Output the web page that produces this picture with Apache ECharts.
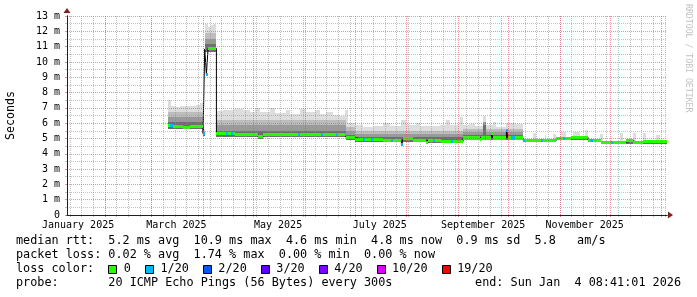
<!DOCTYPE html>
<html><head><meta charset="utf-8">
<script src="https://cdn.jsdelivr.net/npm/echarts@6/dist/echarts.min.js"></script>
<style>html,body{margin:0;padding:0;background:#fff}#c{width:697px;height:297px}</style>
</head><body><div id="c"></div>
<script>
// ---------- data ----------
const rangeStart = '2025-01-09T08:41:01';
const rangeEnd = '2026-01-04T08:41:01';
const xLabelTexts = ['January 2025','March 2025','May 2025','July 2025','September 2025','November 2025'];
const xLabelDates = ['2025-01-16','2025-03-16','2025-05-16','2025-07-16','2025-09-16','2025-11-16'];
const monthStartDates = ['2025-02-01','2025-03-01','2025-04-01','2025-05-01','2025-06-01','2025-07-01','2025-08-01','2025-09-01','2025-10-01','2025-11-01','2025-12-01','2026-01-01'];
const firstWeekLine = '2025-01-11';
const yMin = 0, yMax = 13, yStep = 1;

// median rtt (ms), step list: [from date, value]
const medianSteps = [
 ['2025-03-11',5.82],['2025-03-14',5.76],['2025-03-20',5.72],['2025-03-24',5.76],
 ['2025-04-01',5.32],['2025-04-02',10.85],['2025-04-03',9.2],['2025-04-04',10.88],
 ['2025-04-09',5.3],['2025-04-20',5.25],['2025-05-04',5.1],['2025-05-07',5.25],
 ['2025-06-26',5.05],['2025-07-01',4.95],['2025-07-18',4.85],['2025-07-29',4.6],
 ['2025-07-30',4.97],['2025-08-05',4.85],['2025-08-13',4.72],['2025-08-14',4.85],
 ['2025-08-22',4.8],['2025-09-04',5.03],['2025-09-14',4.93],['2025-09-15',5.03],
 ['2025-09-21',5.3],['2025-09-22',5.03],['2025-09-30',5.5],['2025-10-01',5.03],
 ['2025-10-10',4.88],['2025-10-30',5.02],['2025-11-08',5.07],['2025-11-18',4.88],
 ['2025-11-20',4.85],['2025-11-26',4.76],['2025-12-11',4.85],['2025-12-15',4.76],
 ['2025-12-21',4.8]
];
// smoke: lowest ping, and upper edges of the dark / mid / light / lightest bands
const smokeLowSteps = [
 ['2025-03-11',5.6],['2025-04-01',5.18],['2025-04-02',10.65],['2025-04-09',5.12],
 ['2025-05-04',4.98],['2025-05-07',5.12],['2025-06-26',4.93],['2025-07-01',4.78],
 ['2025-07-29',4.5],['2025-07-30',4.78],['2025-08-13',4.62],['2025-08-14',4.72],
 ['2025-09-04',4.92],['2025-09-14',4.83],['2025-09-15',4.92],['2025-10-10',4.78],
 ['2025-10-30',4.92],['2025-11-18',4.77],['2025-11-26',4.66]
];
const smokeDarkSteps = [
 ['2025-03-11',6.05],['2025-04-01',5.4],['2025-04-02',11.15],['2025-04-09',5.5],
 ['2025-06-26',5.25],['2025-07-01',5.1],['2025-09-04',5.25],['2025-09-16',5.9],
 ['2025-09-18',5.25],['2025-09-30',5.65],['2025-10-01',5.25],['2025-10-10',4.9],
 ['2025-10-30',5.05],['2025-11-18',4.9],['2025-11-26',4.8]
];
const smokeMidSteps = [
 ['2025-03-11',6.4],['2025-04-01',5.45],['2025-04-02',11.5],['2025-04-09',5.85],
 ['2025-06-26',5.5],['2025-07-01',5.3],['2025-09-04',5.45],['2025-09-16',6.1],
 ['2025-09-18',5.45],['2025-10-10',4.9],['2025-10-30',5.05],['2025-11-18',4.9],
 ['2025-11-26',4.8]
];
const smokeLightSteps = [
 ['2025-03-11',6.75],['2025-04-01',5.5],['2025-04-02',11.9],['2025-04-09',6.2],
 ['2025-06-26',5.75],['2025-07-01',5.5],['2025-09-04',5.6],['2025-10-10',4.9],
 ['2025-10-30',5.05],['2025-11-18',4.9],['2025-11-26',4.8]
];
const smokeMaxSteps = [
 ['2025-03-11',7.5],['2025-03-13',7.1],['2025-03-15',7.05],['2025-03-18',7.15],
 ['2025-03-21',7.1],['2025-03-25',7.15],['2025-03-28',7.2],['2025-03-30',7.3],
 ['2025-04-01',5.6],['2025-04-02',12.5],['2025-04-04',12.3],['2025-04-06',12.4],
 ['2025-04-07',12.5],['2025-04-09',6.8],['2025-04-13',6.85],['2025-04-19',6.95],
 ['2025-04-25',6.85],['2025-04-29',6.7],['2025-05-02',7.0],['2025-05-05',6.75],
 ['2025-05-11',7.0],['2025-05-14',6.65],['2025-05-21',6.85],['2025-05-23',6.6],
 ['2025-05-29',6.9],['2025-06-02',6.7],['2025-06-07',6.85],['2025-06-10',6.6],
 ['2025-06-14',6.75],['2025-06-18',6.55],['2025-06-22',6.5],['2025-06-25',6.85],
 ['2025-06-27',6.0],['2025-07-01',5.85],['2025-07-06',5.75],['2025-07-12',5.8],
 ['2025-07-18',6.0],['2025-07-22',5.8],['2025-07-29',6.2],['2025-08-01',5.9],
 ['2025-08-07',6.0],['2025-08-09',5.8],['2025-08-21',5.9],['2025-08-25',6.2],
 ['2025-08-27',5.85],['2025-09-02',6.4],['2025-09-04',5.85],['2025-09-08',5.95],
 ['2025-09-11',5.8],['2025-09-16',6.5],['2025-09-18',5.85],['2025-09-22',6.1],
 ['2025-09-24',5.75],['2025-09-30',6.0],['2025-10-05',5.95],['2025-10-10',4.95],
 ['2025-10-16',5.35],['2025-10-18',4.95],['2025-10-23',5.2],['2025-10-24',4.95],
 ['2025-10-28',5.3],['2025-10-30',5.1],['2025-11-02',5.4],['2025-11-05',5.1],
 ['2025-11-09',5.45],['2025-11-13',5.1],['2025-11-16',5.55],['2025-11-18',4.95],
 ['2025-11-25',5.3],['2025-11-27',4.85],['2025-12-07',5.35],['2025-12-09',4.85],
 ['2025-12-15',5.35],['2025-12-17',4.85],['2025-12-21',5.35],['2025-12-23',4.9],
 ['2025-12-29',5.2],['2025-12-31',4.9]
];
// days with packet loss: [date, index into lossLegendLabels]
const lossEvents = [
 ['2025-03-12',1],['2025-03-13',1],['2025-04-01',1],['2025-04-02',1],['2025-04-03',1],
 ['2025-04-15',1],['2025-04-18',1],['2025-05-28',1],['2025-06-11',1],['2025-06-20',1],
 ['2025-06-25',1],['2025-07-06',1],['2025-07-11',1],['2025-07-23',1],['2025-07-29',1],
 ['2025-08-17',1],['2025-08-28',1],['2025-09-17',1],['2025-09-30',1],['2025-10-03',1],
 ['2025-10-04',1],['2025-10-10',1],['2025-10-21',1],['2025-11-03',1],['2025-11-19',1],
 ['2025-11-20',1],['2025-12-02',1]
];
const lossLegendLabels = ['0','1/20','2/20','3/20','4/20','10/20','19/20'];
const lossColors = ['#26ff00','#00b8ff','#0059ff','#5e00ff','#7e00ff','#dd00ff','#ff0000'];
const legendLines = [
 'median rtt:  5.2 ms avg  10.9 ms max  4.6 ms min  4.8 ms now  0.9 ms sd  5.8   am/s',
 'packet loss: 0.02 % avg  1.74 % max  0.00 % min  0.00 % now'
];
const lossTitle = 'loss color:';
const probeText = 'probe:       20 ICMP Echo Pings (56 Bytes) every 300s';
const endText = 'end: Sun Jan  4 08:41:01 2026';
const watermark = 'RRDTOOL / TOBI OETIKER';
const yTitle = 'Seconds';

// ---------- helpers ----------
const DAY0 = Date.UTC(2025,0,1);
function dayOf(s){ const t = Date.parse(s.length===10 ? s+'T00:00:00Z' : s+'Z'); return (t-DAY0)/86400000; }
function stepValue(steps, day){ let v=null; for (const [d,val] of steps){ if (dayOf(d) <= day+1e-9) v=val; else break; } return v; }
const xMin = dayOf(rangeStart), xMax = dayOf(rangeEnd);
const dataEnd = xMax;
const dataStart = dayOf(medianSteps[0][0]);

function buildSegments(){
  const bps = new Set();
  [medianSteps,smokeLowSteps,smokeDarkSteps,smokeMidSteps,smokeLightSteps,smokeMaxSteps].forEach(l=>l.forEach(([d])=>bps.add(dayOf(d))));
  lossEvents.forEach(([d])=>{bps.add(dayOf(d)); bps.add(dayOf(d)+1);});
  bps.add(dataEnd);
  const arr=[...bps].filter(x=>x>=dataStart && x<=dataEnd).sort((a,b)=>a-b);
  const segs=[];
  for(let i=0;i<arr.length-1;i++){
    const a=arr[i], b=arr[i+1];
    const low=stepValue(smokeLowSteps,a);
    const dark=Math.max(low,stepValue(smokeDarkSteps,a));
    const mid=Math.max(dark,stepValue(smokeMidSteps,a));
    const light=Math.max(mid,stepValue(smokeLightSteps,a));
    const top=Math.max(light,stepValue(smokeMaxSteps,a));
    const med=stepValue(medianSteps,a);
    let loss=0; lossEvents.forEach(([d,l])=>{const s=dayOf(d); if(a>=s-1e-9 && a<s+1-1e-9) loss=l;});
    segs.push([a,b,low,dark,mid,light,top,med,loss]);
  }
  return segs;
}
const segments = buildSegments();
const medianLine = segments.map(s=>[s[0],s[7]]).concat([[dataEnd, segments[segments.length-1][7]]]);

const monthStartDays = monthStartDates.map(dayOf);
const xLabelDays = xLabelDates.map(dayOf);
const weekDays = []; for(let d=dayOf(firstWeekLine); d<xMax; d+=7) weekDays.push(d);

// ---------- style ----------
const FONT = 'DejaVu Sans Mono';
const gridCol = 'rgba(143,143,143,0.55)';
const mgridCol = 'rgba(222,79,79,0.6)';
const axisCol = '#1f1f1f';
const arrowCol = '#801f1f';
const smokeColors = ['#6e6e6e','#9a9a9a','#bdbdbd','#dddddd'];
const bandHalf = 0.1;
const dot = [1,1];

const chart = echarts.init(document.getElementById('c'), null, {renderer:'canvas'});

function xr(api, v){ return Math.round(api.coord([v,0])[0]); }
function yr(api, v){ return Math.round(api.coord([xMin,v])[1]); }

function vGridSeries(name, days, color, z){
  return {type:'custom', name, xAxisIndex:0, yAxisIndex:0, z, silent:true,
    encode:{x:0}, data:days.map(d=>[d]),
    renderItem:(params, api)=>{
      const x = Math.round(api.coord([api.value(0), yMin])[0]) + 0.5;
      const yb = api.coord([api.value(0), yMin])[1], yt = api.coord([api.value(0), yMax])[1];
      return {type:'group', children:[
        {type:'line', shape:{x1:x, y1:Math.round(yt), x2:x, y2:Math.round(yb)}, style:{stroke:color, lineWidth:1, lineDash:dot}},
        {type:'line', shape:{x1:x, y1:Math.round(yb), x2:x, y2:Math.round(yb)+2}, style:{stroke:color, lineWidth:1}}
      ]};
    }};
}

// legend graphics
const LEG_FS = 11.8, CW = LEG_FS*0.602;
const rowY = [240.5, 254.8, 269.1, 283.4];
const lf = LEG_FS+'px "'+FONT+'"';
const graphics = [];
legendLines.forEach((t,i)=>graphics.push({type:'text', x:16, y:rowY[i], style:{text:t, font:lf, fill:'#000', verticalAlign:'middle', align:'left'}}));
graphics.push({type:'text', x:16, y:rowY[2], style:{text:lossTitle, font:lf, fill:'#000', verticalAlign:'middle'}});
let sx = 16 + 13*CW;
lossLegendLabels.forEach((lab,i)=>{
  graphics.push({type:'rect', shape:{x:Math.round(sx)+0.5, y:Math.round(rowY[2]-4.5)+0.5, width:8, height:8}, style:{fill:lossColors[i], stroke:'#000', lineWidth:1}});
  const tx = sx + 15.5;
  graphics.push({type:'text', x:tx, y:rowY[2], style:{text:lab, font:lf, fill:'#000', verticalAlign:'middle'}});
  sx = tx + lab.length*CW + 14;
});
graphics.push({type:'text', x:16, y:rowY[3], style:{text:probeText, font:lf, fill:'#000', verticalAlign:'middle'}});
graphics.push({type:'text', x:681, y:rowY[3], style:{text:endText, font:lf, fill:'#000', verticalAlign:'middle', align:'right'}});
graphics.push({type:'text', x:688, y:4, rotation:-Math.PI/2, style:{text:watermark, font:'8.2px "'+FONT+'"', fill:'#c2c2c2', verticalAlign:'middle', align:'left'}});

const option = {
  animation:false,
  backgroundColor:'#ffffff',
  textStyle:{fontFamily:FONT},
  grid:{left:67, right:30, top:16, bottom:82, containLabel:false, outerBoundsMode:'none'},
  xAxis:[
    {type:'value', min:xMin, max:xMax, position:'bottom', z:6,
     axisLine:{show:true, onZero:false, lineStyle:{color:axisCol, width:1}},
     axisTick:{show:false},
     axisLabel:{show:true, customValues:xLabelDays, fontSize:10, fontFamily:FONT, color:'#000', margin:5,
       formatter:(v)=>{let bi=0,bd=1e9; xLabelDays.forEach((d,i)=>{if(Math.abs(d-v)<bd){bd=Math.abs(d-v);bi=i;}}); return xLabelTexts[bi];}},
     splitLine:{show:false}},
    {type:'value', min:xMin, max:xMax, position:'bottom', z:4,
     axisLine:{show:true, onZero:false, symbol:['none','triangle'], symbolSize:[7,5], symbolOffset:[0,3.5], lineStyle:{color:arrowCol}},
     axisTick:{show:false}, axisLabel:{show:false}, splitLine:{show:false}}
  ],
  yAxis:[
    {type:'value', min:yMin, max:yMax, interval:yStep, position:'left', z:6,
     name:yTitle, nameLocation:'middle', nameRotate:90, nameGap:50,
     nameTextStyle:{fontSize:11.6, fontFamily:FONT, color:'#000'},
     axisLine:{show:true, onZero:false, lineStyle:{color:axisCol, width:1}},
     axisTick:{show:true, length:2, lineStyle:{color:mgridCol}},
     minorTick:{show:true, splitNumber:2, length:2, lineStyle:{color:gridCol}},
     axisLabel:{fontSize:10, fontFamily:FONT, color:'#000', margin:7, formatter:(v)=> v===0 ? '0' : v+' m'},
     splitLine:{show:true, lineStyle:{color:mgridCol, type:dot, width:1}},
     minorSplitLine:{show:true, lineStyle:{color:gridCol, type:dot, width:1}}},
    {type:'value', min:yMin, max:yMax, position:'left', z:4,
     axisLine:{show:true, onZero:false, symbol:['none','triangle'], symbolSize:[7,5], symbolOffset:[0,5.5], lineStyle:{color:arrowCol}},
     axisTick:{show:false}, axisLabel:{show:false}, splitLine:{show:false}}
  ],
  graphic:graphics,
  series:[
    {type:'custom', name:'smoke', xAxisIndex:0, yAxisIndex:0, z:2, silent:true,
     encode:{x:[0,1], y:[2,3,4,5,6]},
     data:segments,
     renderItem:(params, api)=>{
       const a=api.value(0), b=api.value(1);
       const x0=xr(api,a), x1=xr(api,b);
       const lv=[api.value(2),api.value(3),api.value(4),api.value(5),api.value(6)];
       const children=[];
       for(let k=0;k<4;k++){
         const yb=yr(api,lv[k]), yt=yr(api,lv[k+1]);
         if(yb-yt<=0 || x1-x0<=0) continue;
         children.push({type:'rect', shape:{x:x0,y:yt,width:x1-x0,height:yb-yt}, style:{fill:smokeColors[k]}});
       }
       return {type:'group', children};
     }},
    {type:'line', name:'median', xAxisIndex:0, yAxisIndex:0, z:3, silent:true,
     step:'end', showSymbol:false, symbol:'none', data:medianLine,
     lineStyle:{color:'#000', width:1}},
    {type:'custom', name:'median loss color', xAxisIndex:0, yAxisIndex:0, z:4, silent:true,
     encode:{x:[0,1], y:[7]},
     data:segments,
     renderItem:(params, api)=>{
       const a=api.value(0), b=api.value(1), m=api.value(7);
       const x0=xr(api,a), x1=xr(api,b);
       const yt=yr(api,m+bandHalf), yb=yr(api,m-bandHalf);
       return {type:'rect', shape:{x:x0,y:yt,width:Math.max(1,x1-x0),height:Math.max(1,yb-yt)}, style:{fill:lossColors[api.value(8)]}};
     }},
    vGridSeries('week grid', weekDays, gridCol, 5),
    vGridSeries('month grid', monthStartDays, mgridCol, 5.5)
  ]
};
chart.setOption(option);
</script>
</body></html>
